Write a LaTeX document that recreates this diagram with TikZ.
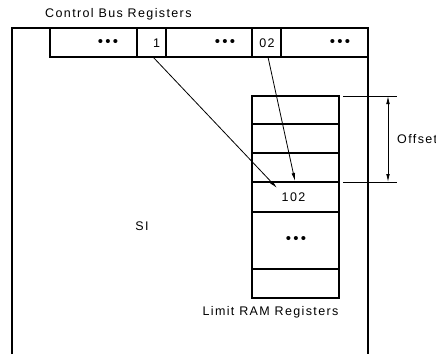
\documentclass[tikz,border=0pt]{standalone}
\usepackage{fontspec}
\setmainfont{Liberation Sans}[LetterSpace=11]
\usetikzlibrary{arrows.meta}
\newcommand{\tridots}{{\fontsize{15}{15}\selectfont\char"2022\hspace{2.2pt}\char"2022\hspace{2.2pt}\char"2022}}
\begin{document}
\begin{tikzpicture}[x=1pt,y=-1pt,
  cell/.style={draw, line width=1.5pt, minimum width=#1, minimum height=29pt,
    inner sep=0pt, outer sep=0pt, anchor=north west},
  row/.style={draw, line width=1.3pt, minimum width=87pt, minimum height=#1,
    inner sep=0pt, outer sep=0pt, anchor=north west},
  lbl/.style={inner sep=0pt, font=\fontsize{12.5}{14}\selectfont},
  conn/.style={line width=0.8pt, -{Latex[length=8pt,width=3.6pt]}},
  dim/.style={line width=0.8pt},
  dimarrow/.style={line width=0.8pt, {Latex[length=8pt,width=3.6pt]}-{Latex[length=8pt,width=3.6pt]}}]
\useasboundingbox (0,0) rectangle (436,354);
% outer SI box (open at the bottom)
\coordinate (ob1) at (12,354);
\coordinate (ob2) at (12,28);
\coordinate (ob3) at (368,28);
\coordinate (ob4) at (368,354);
\draw[line width=1.7pt] (ob1) -- (ob2) -- (ob3) -- (ob4);
% control bus register strip
\node[cell=87pt] (c1) at (50,28) {};
\node[cell=29pt] (c2) at (137,28) {};
\node[cell=86pt] (c3) at (166,28) {};
\node[cell=29pt] (c4) at (252,28) {};
\node[cell=87pt] (c5) at (281,28) {};
\node[lbl] (d1) at (108,43) {\tridots};
\node[lbl] (t1) at (156.5,43) {1};
\node[lbl] (d3) at (225,43) {\tridots};
\node[lbl] (t02) at (267,43) {02};
\node[lbl] (d5) at (340,43) {\tridots};
\node[lbl, anchor=west] (cbr) at (45,14) {Control Bus Registers};
% limit RAM register stack
\node[row=28pt] (r1) at (252,96) {};
\node[row=29pt] (r2) at (252,124) {};
\node[row=29pt] (r3) at (252,153) {};
\node[row=30pt] (r4) at (252,182) {};
\node[row=57pt] (r5) at (252,212) {};
\node[row=29pt] (r6) at (252,269) {};
\coordinate (rl1) at (252,182);
\coordinate (rl2) at (339,182);
\draw[line width=1.7pt] (rl1) -- (rl2);
\node[lbl] (t102) at (293.5,197) {102};
\node[lbl] (d6) at (296,240) {\tridots};
\node[lbl] (lrr) at (270.5,312) {Limit RAM Registers};
% SI label
\node[lbl] (si) at (142,226) {SI};
% connectors
\coordinate (e1) at (277,188);
\coordinate (e2) at (295,181);
\draw[conn] (c2.south) ++(1.5,0) -- (e1);
\draw[conn] (c4.south) ++(1.5,0) -- (e2);
% offset dimension
\coordinate (o1) at (343,96);
\coordinate (o2) at (397,96);
\coordinate (o3) at (343,182);
\coordinate (o4) at (397,182);
\coordinate (oa) at (388,96);
\coordinate (ob) at (388,182);
\draw[dim] (o1) -- (o2);
\draw[dim] (o3) -- (o4);
\draw[dimarrow] (oa) -- (ob);
\node[lbl, anchor=west] (off) at (397,139) {Offset};
\end{tikzpicture}
\end{document}
